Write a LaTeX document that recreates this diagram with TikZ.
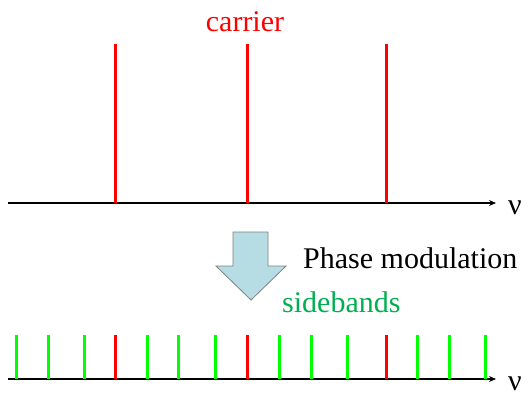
\documentclass[tikz,border=0pt]{standalone}
\usepackage{fontspec}
\newfontfamily\labelfont{Liberation Serif}
\usetikzlibrary{arrows.meta}
\definecolor{carrierred}{RGB}{255,0,0}
\definecolor{bandgreen}{RGB}{0,255,0}
\definecolor{labelgreen}{RGB}{0,176,80}
\definecolor{arrowfill}{RGB}{183,221,228}
\definecolor{arrowedge}{RGB}{128,128,128}
\tikzset{
  axisline/.style={line width=1.1pt, -{Stealth[length=7pt,width=6pt]}},
  carrierline/.style={carrierred, line width=3pt},
  bandline/.style={bandgreen, line width=3pt},
  bigtext/.style={font=\labelfont\fontsize{30}{35}\selectfont, inner sep=0pt},
}
\begin{document}
\begin{tikzpicture}[x=1pt, y=-1pt]
  \useasboundingbox (0,0) rectangle (529,396);

  % upper spectrum: three carrier lines
  \coordinate (a1s) at (8,203);
  \coordinate (a1e) at (496,203);
  \draw[axisline] (a1s) -- (a1e);
  \foreach \x in {115,247,386}
    \draw[carrierline] (\x,44) -- (\x,203);
  \node[bigtext, text=carrierred, anchor=base] (carrier) at (245,31) {carrier};
  \node[bigtext, text depth=0pt, anchor=base] (nu1) at (515,214) {ν};

  % block arrow for the modulation step
  \draw[arrowedge, fill=arrowfill, line width=0.8pt]
    (233,232) -- (268,232) -- (268,266) -- (286,266) -- (251,300)
    -- (216,266) -- (233,266) -- cycle;
  \node[bigtext, anchor=base west] (pm) at (303,268) {Phase modulation};
  \node[bigtext, text=labelgreen, anchor=base west] (sb) at (282,312) {sidebands};

  % lower spectrum: carriers with sidebands
  \coordinate (a2s) at (8,379);
  \coordinate (a2e) at (496,379);
  \draw[axisline] (a2s) -- (a2e);
  \foreach \x in {16,48,84,147,178,215,279,311,347,417,449,485}
    \draw[bandline] (\x,335) -- (\x,379);
  \foreach \x in {115,247,386}
    \draw[carrierline] (\x,335) -- (\x,379);
  \node[bigtext, text depth=0pt, anchor=base] (nu2) at (515,390) {ν};
\end{tikzpicture}
\end{document}
